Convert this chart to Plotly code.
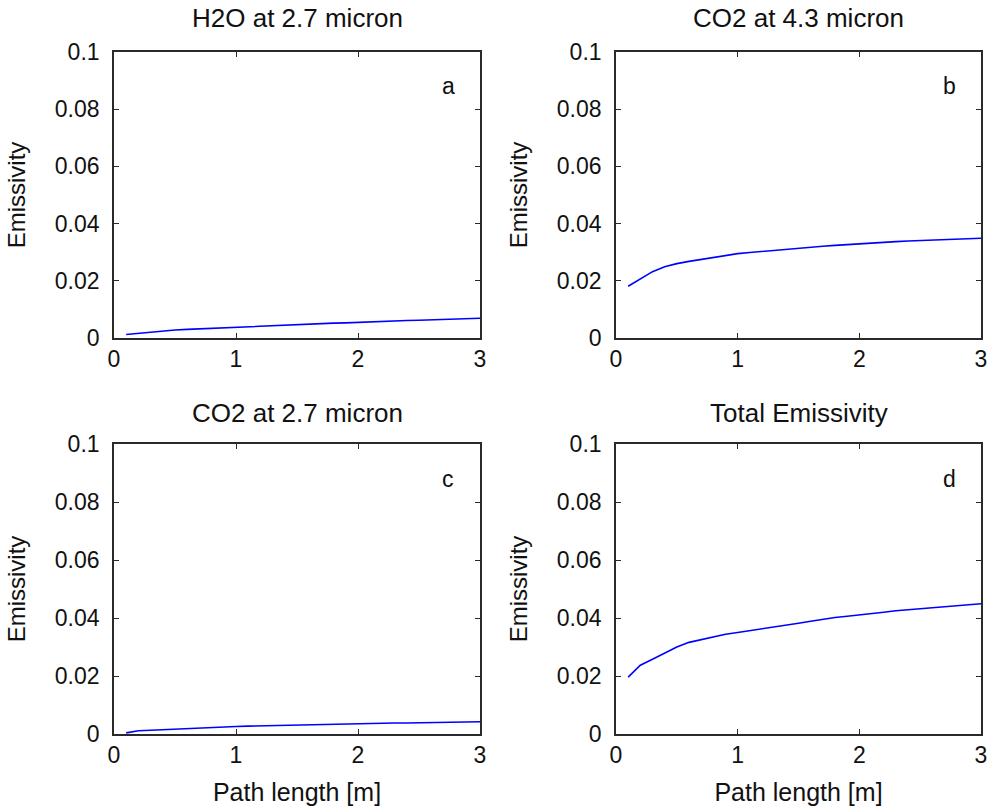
import plotly.graph_objects as go

# ---------------- data ----------------
path_length = [0.1, 0.2, 0.3, 0.4, 0.5, 0.6, 0.7, 0.8, 0.9, 1.0,
               1.1, 1.2, 1.3, 1.4, 1.5, 1.6, 1.7, 1.8, 1.9, 2.0,
               2.1, 2.2, 2.3, 2.4, 2.5, 2.6, 2.7, 2.8, 2.9, 3.0]

h2o_27 = [0.0012, 0.0016, 0.0021, 0.0026, 0.0028, 0.0030, 0.0032, 0.0034, 0.0036, 0.0038,
          0.0040, 0.0042, 0.0044, 0.0045, 0.0047, 0.0048, 0.0050, 0.0052, 0.0053, 0.0055,
          0.0057, 0.0058, 0.0059, 0.0061, 0.0062, 0.0063, 0.0065, 0.0066, 0.0068, 0.0069]

co2_43 = [0.0181, 0.0205, 0.0232, 0.0249, 0.0260, 0.0268, 0.0275, 0.0282, 0.0289, 0.0295,
          0.0299, 0.0303, 0.0307, 0.0311, 0.0314, 0.0317, 0.0321, 0.0324, 0.0327, 0.0330,
          0.0332, 0.0334, 0.0337, 0.0339, 0.0341, 0.0343, 0.0345, 0.0347, 0.0348, 0.0349]

co2_27 = [0.0004, 0.0011, 0.0013, 0.0015, 0.0018, 0.0019, 0.0021, 0.0022, 0.0024, 0.0026,
          0.0027, 0.0028, 0.0029, 0.0031, 0.0032, 0.0033, 0.0034, 0.0035, 0.0035, 0.0036,
          0.0037, 0.0037, 0.0038, 0.0038, 0.0039, 0.0040, 0.0041, 0.0041, 0.0042, 0.0042]

total_em = [0.0196, 0.0237, 0.0258, 0.0280, 0.0300, 0.0316, 0.0326, 0.0336, 0.0344, 0.0350,
            0.0356, 0.0362, 0.0368, 0.0375, 0.0382, 0.0389, 0.0396, 0.0402, 0.0406, 0.0410,
            0.0415, 0.0420, 0.0425, 0.0429, 0.0432, 0.0435, 0.0439, 0.0442, 0.0446, 0.0449]

panel_titles = ["H2O at 2.7 micron", "CO2 at 4.3 micron", "CO2 at 2.7 micron", "Total Emissivity"]
panel_letters = ["a", "b", "c", "d"]
x_ticks = [0, 1, 2, 3]
x_ticklabels = ["0", "1", "2", "3"]
y_ticks = [0, 0.02, 0.04, 0.06, 0.08, 0.1]
y_ticklabels = ["0", "0.02", "0.04", "0.06", "0.08", "0.1"]
x_label = "Path length [m]"
y_label = "Emissivity"

series = [h2o_27, co2_43, co2_27, total_em]

# ---------------- layout geometry ----------------
W, H = 992, 808
FONT = "Liberation Sans, Arial, Helvetica, sans-serif"
INK = "#111111"
AX = "#2a2a2a"

# pixel boxes (left, right, top, bottom)
boxes = [(114, 480, 52, 338), (616, 981, 52, 338),
         (114, 480, 444, 734), (616, 981, 444, 734)]
title_y = [18, 18, 413, 413]

fig = go.Figure()
layout = dict(
    width=W, height=H,
    margin=dict(l=0, r=0, t=0, b=0),
    paper_bgcolor="white", plot_bgcolor="white",
    showlegend=False,
    font=dict(family=FONT, size=23, color=INK),
    annotations=[],
)

for i, (ys, box) in enumerate(zip(series, boxes)):
    n = i + 1
    xa = "x" if n == 1 else f"x{n}"
    ya = "y" if n == 1 else f"y{n}"
    fig.add_trace(go.Scatter(x=path_length, y=ys, mode="lines",
                             line=dict(color="#0000ff", width=1.6),
                             xaxis=xa, yaxis=ya, hoverinfo="x+y"))
    l, r, t, b = box
    xdom = [l / W, r / W]
    ydom = [1 - b / H, 1 - t / H]
    bottom_row = i >= 2
    common = dict(showline=True, linecolor=AX, linewidth=1.6, mirror="ticks",
                  ticks="inside", ticklen=5, tickwidth=1.4, tickcolor=AX,
                  showgrid=False, zeroline=False, automargin=False,
                  tickfont=dict(family=FONT, size=23, color=INK))
    layout["xaxis" if n == 1 else f"xaxis{n}"] = dict(
        domain=xdom, range=[0, 3], anchor=ya,
        tickmode="array", tickvals=x_ticks, ticktext=x_ticklabels,
        ticklabelstandoff=0,
        title=dict(text=x_label if bottom_row else "", standoff=16,
                   font=dict(family=FONT, size=25, color=INK)),
        **common)
    layout["yaxis" if n == 1 else f"yaxis{n}"] = dict(
        domain=ydom, range=[0, 0.1], anchor=xa,
        tickmode="array", tickvals=y_ticks, ticktext=y_ticklabels,
        ticklabelstandoff=8,
        title=dict(text=y_label, standoff=22,
                   font=dict(family=FONT, size=24, color=INK)),
        **common)
    # panel title
    layout["annotations"].append(dict(
        text=panel_titles[i], xref="paper", yref="paper",
        x=(l + r) / 2 / W, y=1 - title_y[i] / H, xanchor="center", yanchor="middle",
        showarrow=False, font=dict(family=FONT, size=26, color=INK)))
    # panel letter
    layout["annotations"].append(dict(
        text=panel_letters[i], xref=xa, yref=ya, x=2.74, y=0.088,
        xanchor="center", yanchor="middle", showarrow=False,
        font=dict(family=FONT, size=23, color=INK)))

fig.update_layout(**layout)
fig.write_html("out.html", config={"displayModeBar": False},
               post_script="document.body.style.margin='0';document.body.style.overflow='hidden';")
